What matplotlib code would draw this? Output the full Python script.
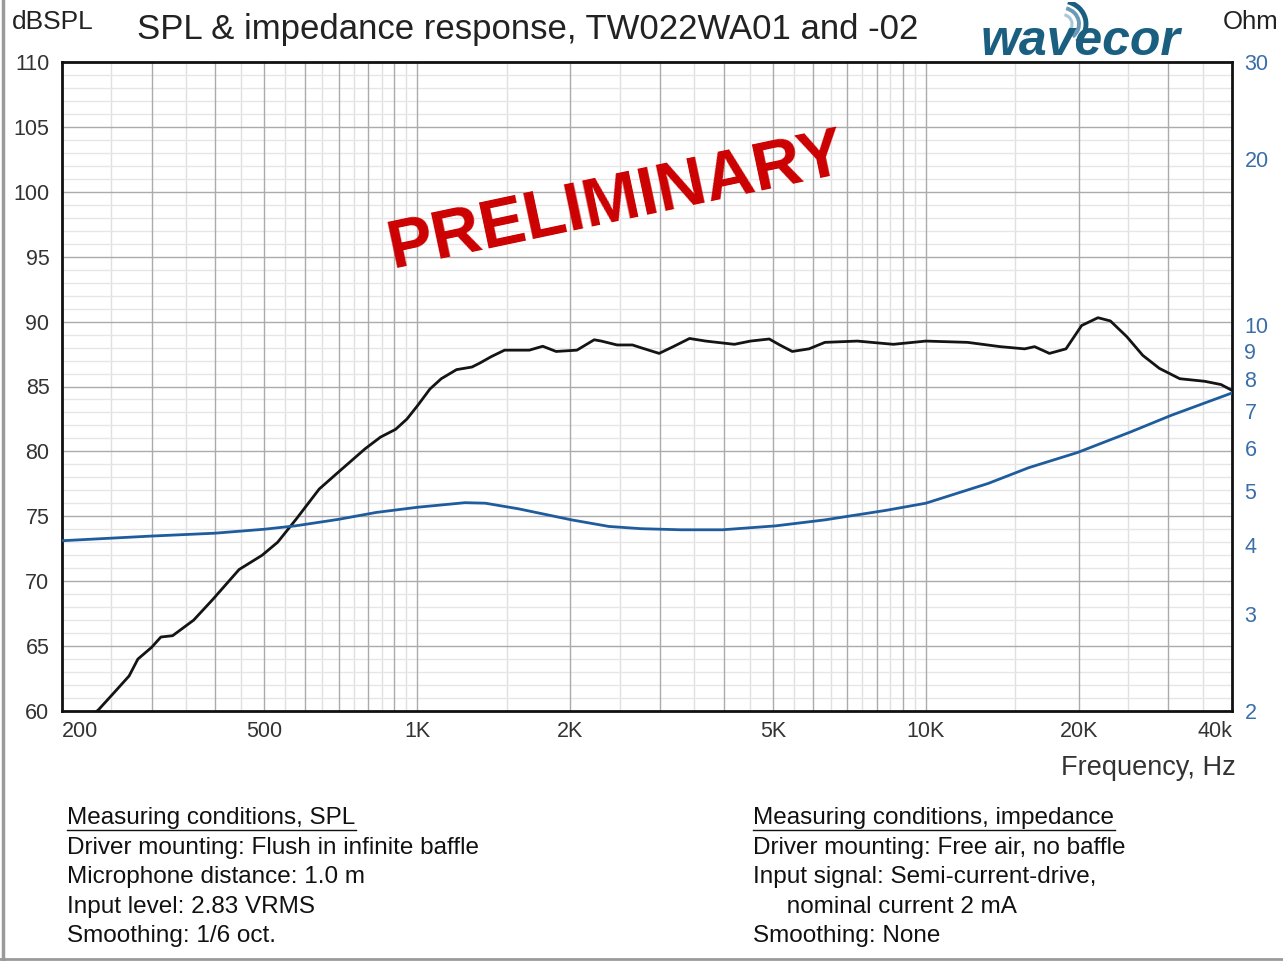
import numpy as np
import matplotlib
matplotlib.use("Agg")
import matplotlib.pyplot as plt
from matplotlib.patches import Arc
from matplotlib.ticker import FixedLocator, NullFormatter, NullLocator

plt.rcParams["font.family"] = ["Liberation Sans", "DejaVu Sans"]

# ── Data ──────────────────────────────────────────────────────────────────
spl_freq = [228, 236, 253, 271, 282, 300, 313, 330, 363, 396, 446, 495, 531,
            578, 641, 699, 789, 846, 906, 954, 1004, 1058, 1114, 1194, 1280,
            1326, 1397, 1484, 1578, 1660, 1764, 1874, 2059, 2227, 2300, 2470,
            2648, 2746, 2988, 3185, 3429, 3690, 4200, 4520, 4920, 5160, 5460,
            5890, 6330, 7330, 8630, 10000, 12080, 14000, 15640, 16360, 17500,
            18860, 20250, 21800, 23060, 24840, 26700, 28780, 31570, 35360,
            38060, 40000]
spl_db = [59.6, 60.1, 61.4, 62.7, 64.0, 64.9, 65.7, 65.8, 67.0, 68.6, 70.9,
          72.0, 73.0, 74.8, 77.1, 78.4, 80.2, 81.1, 81.7, 82.5, 83.6, 84.8,
          85.6, 86.3, 86.5, 86.8, 87.3, 87.8, 87.8, 87.8, 88.1, 87.7, 87.8,
          88.6, 88.5, 88.2, 88.2, 88.0, 87.55, 88.07, 88.7, 88.5, 88.25,
          88.5, 88.66, 88.2, 87.7, 87.9, 88.4, 88.5, 88.25, 88.5, 88.4, 88.07,
          87.9, 88.07, 87.55, 87.9, 89.7, 90.3, 90.05, 88.84, 87.4, 86.4,
          85.6, 85.4, 85.15, 84.7]

imp_freq = [200, 300, 400, 500, 575, 700, 830, 1000, 1240, 1360, 1580, 2010,
            2380, 2750, 3300, 3980, 5060, 6330, 8350, 10000, 13270, 15930,
            19860, 25290, 30400, 40000]
imp_ohm = [4.07, 4.15, 4.20, 4.27, 4.33, 4.45, 4.58, 4.68, 4.77, 4.76, 4.65,
           4.44, 4.32, 4.28, 4.26, 4.26, 4.33, 4.44, 4.62, 4.76, 5.17, 5.52,
           5.88, 6.41, 6.87, 7.54]

x_ticks = [200, 500, 1000, 2000, 5000, 10000, 20000, 40000]
x_labels = ["200", "500", "1K", "2K", "5K", "10K", "20K", "40k"]
y_ticks = [60, 65, 70, 75, 80, 85, 90, 95, 100, 105, 110]
z_ticks = [2, 3, 4, 5, 6, 7, 8, 9, 10, 20, 30]

spl_notes = ["Driver mounting: Flush in infinite baffle",
             "Microphone distance: 1.0 m",
             "Input level: 2.83 VRMS",
             "Smoothing: 1/6 oct."]
imp_notes = ["Driver mounting: Free air, no baffle",
             "Input signal: Semi-current-drive,",
             "     nominal current 2 mA",
             "Smoothing: None"]

# ── Figure ────────────────────────────────────────────────────────────────
W, H = 1283, 961
fig = plt.figure(figsize=(W / 100, H / 100), dpi=100)
ax = fig.add_axes([62 / W, 1 - 711 / H, (1232 - 62) / W, (711 - 62) / H])

# grid: 1..9 per decade darker, half steps light, 1 dB light
major_x = [m * 10 ** e for e in (2, 3, 4) for m in range(1, 10)]
major_x = [v for v in major_x if 200 < v < 40000]
minor_x = [(m + 0.5) * 10 ** e for e in (2, 3, 4) for m in range(1, 10)]
minor_x = [v for v in minor_x if 200 < v < 40000]
for v in minor_x:
    ax.axvline(v, color="#e0e0e0", lw=1.0, zorder=0)
for v in range(61, 110):
    if v % 5:
        ax.axhline(v, color="#e6e6e6", lw=1.0, zorder=0)
for v in major_x:
    ax.axvline(v, color="#ababab", lw=1.0, zorder=1)
for v in y_ticks[1:-1]:
    ax.axhline(v, color="#ababab", lw=1.0, zorder=1)

ax.set_xscale("log")
ax.set_xlim(200, 40000)
ax.set_ylim(60, 110)
ax.plot(spl_freq, spl_db, color="#141414", lw=2.0, zorder=5)

ax.xaxis.set_major_locator(FixedLocator(x_ticks))
ax.xaxis.set_minor_locator(NullLocator())
ax.xaxis.set_minor_formatter(NullFormatter())
ax.set_xticklabels(x_labels)
ax.set_yticks(y_ticks)
ax.tick_params(axis="both", length=0, labelsize=15.5, colors="#333333")
ax.tick_params(axis="x", pad=7)
ax.tick_params(axis="y", pad=9)
xl = ax.get_xticklabels()
xl[0].set_horizontalalignment("left")
xl[-1].set_horizontalalignment("right")
for s in ax.spines.values():
    s.set_color("#111111")
    s.set_linewidth(2.0)

ax2 = ax.twinx()
ax2.set_yscale("log")
ax2.set_ylim(2, 30)
ax2.plot(imp_freq, imp_ohm, color="#1f5c9e", lw=2.0, zorder=4)
ax2.yaxis.set_major_locator(FixedLocator(z_ticks))
ax2.yaxis.set_minor_locator(NullLocator())
ax2.yaxis.set_minor_formatter(NullFormatter())
ax2.set_yticklabels([str(v) for v in z_ticks])
ax2.tick_params(axis="y", length=0, labelsize=15.5, colors="#3a6ea8", pad=9)
for s in ax2.spines.values():
    s.set_visible(False)

# ── Texts ─────────────────────────────────────────────────────────────────
fig.text(137 / W, 1 - 30 / H, "SPL & impedance response, TW022WA01 and -02",
         fontsize=25, color="#222222", va="center", ha="left")
fig.text(12 / W, 1 - 22 / H, "dBSPL", fontsize=19, color="#222222",
         va="center")
fig.text(1279 / W, 1 - 22 / H, "Ohm", fontsize=18.5, color="#222222",
         va="center", ha="right")
fig.text(1236 / W, 1 - 768 / H, "Frequency, Hz", fontsize=19.5,
         color="#333333", va="center", ha="right")

ax.text(0.474, 0.785, "PRELIMINARY", transform=ax.transAxes, fontsize=49,
        fontweight="bold", color="#cc0000", rotation=12, ha="center",
        va="center", zorder=6)

# logo
fig.text(1081 / W, 1 - 42 / H, "wavecor", fontsize=36, fontweight="bold",
         fontstyle="italic", color="#1a5f80", ha="center", va="center")
lax = fig.add_axes([1050 / W, 1 - 44 / H, 50 / W, 42 / H])
lax.set_xlim(0, 50)
lax.set_ylim(0, 42)
lax.axis("off")
for r, c, w in ((10, "#a8c8d8", 2.2), (17, "#6a9ab5", 2.8), (24, "#1a5f80", 3.5)):
    lax.add_patch(Arc((12, 20), 2 * r, 1.9 * r, theta1=-50, theta2=75,
                      color=c, lw=w))

# measuring conditions
fs = 17.5
fig.text(67 / W, 1 - 818 / H, "Measuring conditions, SPL", fontsize=fs,
         color="#111111", va="center")
fig.add_artist(plt.Line2D([67 / W, 356 / W], [1 - 830 / H, 1 - 830 / H],
                          color="#111111", lw=1.0))
for i, s in enumerate(spl_notes):
    fig.text(67 / W, 1 - (848 + 29.3 * i) / H, s, fontsize=fs,
             color="#111111", va="center")

fig.text(753 / W, 1 - 818 / H, "Measuring conditions, impedance",
         fontsize=fs, color="#111111", va="center")
fig.add_artist(plt.Line2D([753 / W, 1115 / W], [1 - 830 / H, 1 - 830 / H],
                          color="#111111", lw=1.0))
for i, s in enumerate(imp_notes):
    fig.text(753 / W, 1 - (848 + 29.3 * i) / H, s, fontsize=fs,
             color="#111111", va="center")

# page frame
fig.add_artist(plt.Line2D([3 / W, 3 / W], [0, 1], color="#9a9a9a", lw=2.5))
fig.add_artist(plt.Line2D([0, 1], [2 / H, 2 / H], color="#9a9a9a", lw=2.0))

plt.savefig("out.png", dpi=100)
plt.close()
